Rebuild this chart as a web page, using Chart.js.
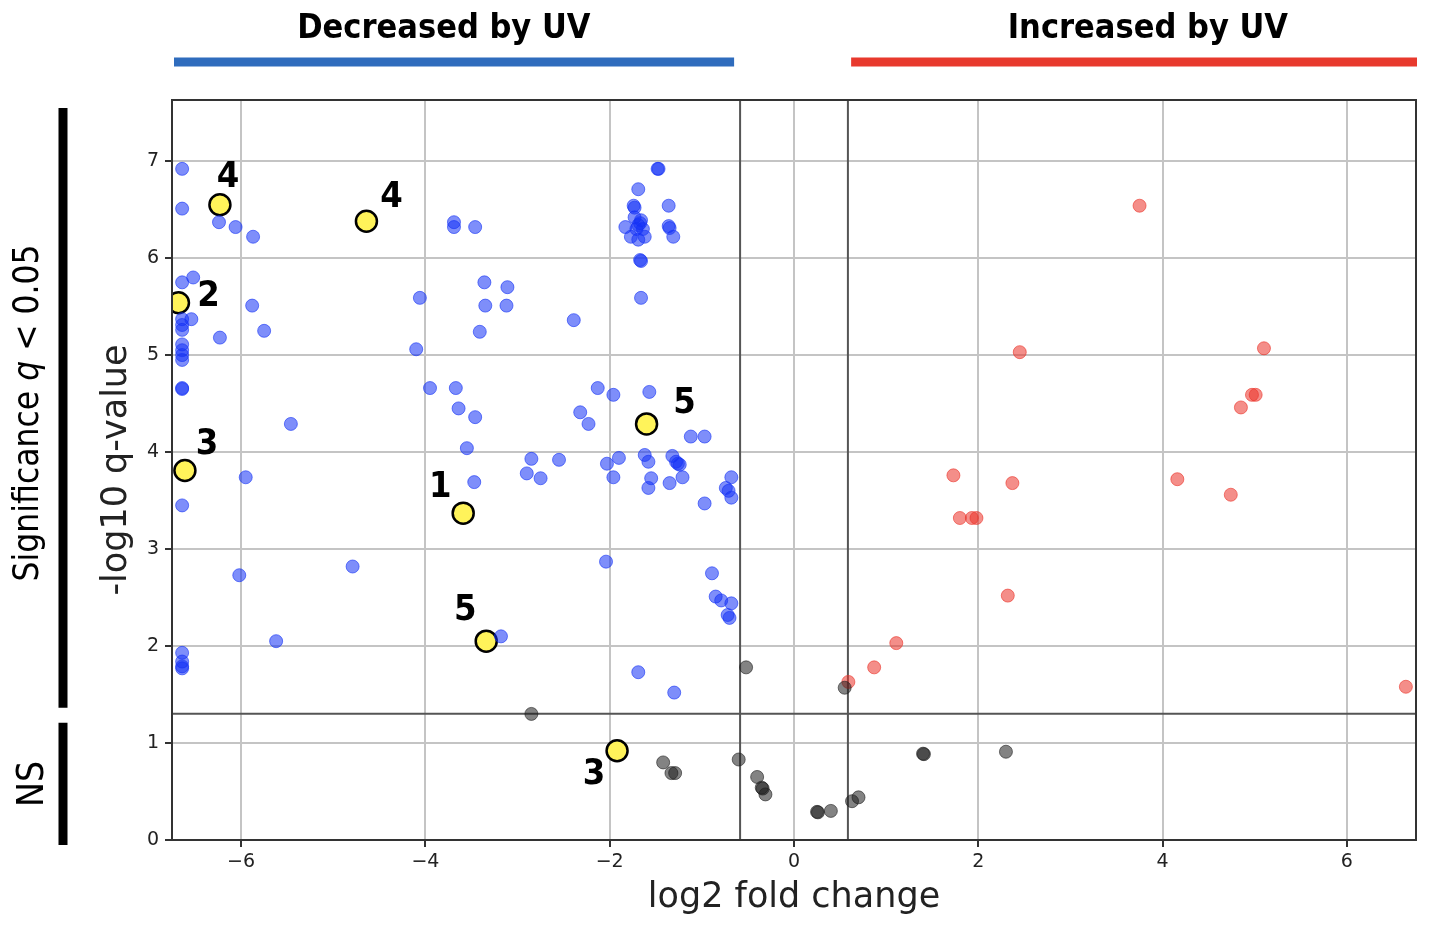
<!DOCTYPE html>
<html>
<head>
<meta charset="utf-8">
<title>Volcano plot - UV</title>
<script src="https://cdn.jsdelivr.net/npm/chart.js@4.4.1/dist/chart.umd.min.js"></script>
<style>
    html, body { margin: 0; padding: 0; background: #fff; }
    #wrap { width: 1429px; height: 925px; position: relative; }
</style>
</head>
<body>
<div id="wrap"><canvas id="volcano"></canvas></div>
<script>
// Data: [log2 fold change, -log10 q]
const decreased = [
    [-6.64, 6.92], [-6.64, 6.51], [-6.64, 5.75], [-6.64, 5.37], [-6.64, 5.31], [-6.64, 5.26],
    [-6.64, 5.11], [-6.64, 5.05], [-6.64, 5.00], [-6.64, 4.95], [-6.64, 4.66], [-6.64, 4.65],
    [-6.64, 3.45], [-6.64, 1.93], [-6.64, 1.84], [-6.64, 1.79], [-6.64, 1.77],
    [-6.52, 5.80], [-6.54, 5.37], [-6.24, 6.37], [-6.06, 6.32], [-5.87, 6.22], [-5.88, 5.51],
    [-5.75, 5.25], [-6.23, 5.18], [-5.46, 4.29], [-5.95, 3.74], [-6.02, 2.73], [-4.79, 2.82],
    [-5.62, 2.05],
    [-4.06, 5.59], [-4.10, 5.06], [-3.95, 4.66], [-3.67, 4.66], [-3.64, 4.45], [-3.46, 4.36],
    [-3.55, 4.04], [-3.47, 3.69], [-3.69, 6.37], [-3.69, 6.32], [-3.46, 6.32], [-3.36, 5.75],
    [-3.11, 5.70], [-3.35, 5.51], [-3.12, 5.51], [-3.41, 5.24],
    [-1.48, 6.92], [-1.47, 6.92], [-1.69, 6.71], [-1.36, 6.54], [-1.74, 6.54], [-1.73, 6.52],
    [-1.69, 6.34], [-1.66, 6.39], [-1.73, 6.42], [-1.83, 6.32], [-1.77, 6.22], [-1.62, 6.22],
    [-1.69, 6.19], [-1.71, 6.30], [-1.67, 6.36], [-1.64, 6.30], [-1.36, 6.33], [-1.35, 6.31],
    [-1.31, 6.22], [-1.67, 5.98], [-1.66, 5.97], [-1.66, 5.59], [-2.39, 5.36],
    [-2.13, 4.66], [-1.96, 4.59], [-1.57, 4.62], [-2.32, 4.41], [-2.23, 4.29], [-1.12, 4.16],
    [-0.97, 4.16],
    [-2.85, 3.93], [-2.55, 3.92], [-2.90, 3.78], [-2.75, 3.73], [-2.03, 3.88], [-1.90, 3.94],
    [-1.96, 3.74], [-1.62, 3.97], [-1.58, 3.90], [-1.55, 3.73], [-1.58, 3.63], [-1.32, 3.96],
    [-1.28, 3.90], [-1.24, 3.87], [-1.26, 3.88], [-1.35, 3.68], [-1.21, 3.74], [-0.97, 3.47],
    [-0.68, 3.74], [-0.74, 3.63], [-0.71, 3.60], [-0.68, 3.53],
    [-2.04, 2.87], [-0.89, 2.75], [-0.85, 2.51], [-0.79, 2.47], [-0.68, 2.44], [-0.72, 2.32],
    [-0.70, 2.29], [-3.18, 2.10], [-1.69, 1.73], [-1.30, 1.52]
];

const increased = [
    [0.59, 1.63], [0.87, 1.78], [1.11, 2.03], [3.75, 6.54], [2.45, 5.03], [5.10, 5.07],
    [4.97, 4.59], [5.01, 4.59], [4.85, 4.46], [1.73, 3.76], [2.37, 3.68], [4.16, 3.72],
    [4.74, 3.56], [1.80, 3.32], [1.93, 3.32], [1.98, 3.32], [2.32, 2.52], [6.64, 1.58]
];

const notSignificant = [
    [-2.85, 1.30], [-0.52, 1.78], [0.55, 1.57], [-0.60, 0.83], [-0.40, 0.65], [-0.35, 0.54],
    [-0.34, 0.53], [-0.31, 0.47], [0.25, 0.29], [0.26, 0.285], [0.40, 0.30], [0.63, 0.40],
    [0.70, 0.44], [1.40, 0.89], [1.41, 0.885], [2.30, 0.91], [-1.42, 0.80], [-1.33, 0.69],
    [-1.29, 0.69]
];

const marked = [
    [-6.23, 6.55], [-4.64, 6.38], [-6.68, 5.54], [-6.61, 3.81],
    [-3.59, 3.37], [-1.60, 4.29], [-3.34, 2.05], [-1.92, 0.92]
];
const markedLabels = ['4', '4', '2', '3', '1', '5', '5', '3'];

const xTickValues = [-6, -4, -2, 0, 2, 4, 6];
const yTickValues = [0, 1, 2, 3, 4, 5, 6, 7];

const fcCut = 0.585;   // log2(1.5)
const qCut = 1.301;    // -log10(0.05)

// label placement next to each marked point (pixels)
const labelOffsets = [[8, -27], [25, -24], [30, -6], [22, -26], [-23, -26], [38, -20], [-21, -31], [-23, 24]];

const condensed = "'DejaVu Sans Condensed', 'Liberation Sans Narrow', sans-serif";

function toXY(list) {
    return list.map(p => ({ x: p[0], y: p[1] }));
}

function minusSign(v) {
    return String(v).replace('-', '\u2212');
}

// Drawing of frame, threshold lines and the annotations around the plot
const decorations = {
    id: 'decorations',
    beforeDatasetsDraw(chart) {
        const { ctx, chartArea: a, scales: { x, y } } = chart;
        ctx.save();
        ctx.strokeStyle = '#555';
        ctx.lineWidth = 2;
        ctx.beginPath();
        [-fcCut, fcCut].forEach(v => {
            const px = x.getPixelForValue(v);
            ctx.moveTo(px, a.top);
            ctx.lineTo(px, a.bottom);
        });
        const py = y.getPixelForValue(qCut);
        ctx.moveTo(a.left, py);
        ctx.lineTo(a.right, py);
        ctx.stroke();
        ctx.restore();
    },
    afterDatasetsDraw(chart) {
        const { ctx, chartArea: a, scales: { x, y } } = chart;
        ctx.save();
        // frame
        ctx.strokeStyle = '#333';
        ctx.lineWidth = 2;
        ctx.strokeRect(a.left, a.top, a.right - a.left, a.bottom - a.top);

        // point labels
        ctx.fillStyle = '#000';
        ctx.font = 'bold 36px ' + condensed;
        ctx.textAlign = 'center';
        ctx.textBaseline = 'middle';
        marked.forEach((p, i) => {
            const px = x.getPixelForValue(p[0]) + labelOffsets[i][0];
            const py = y.getPixelForValue(p[1]) + labelOffsets[i][1];
            ctx.fillText(markedLabels[i], px, py);
        });

        // header bars and titles
        const barY = 62;
        ctx.lineWidth = 9;
        ctx.strokeStyle = '#2f6cbd';
        ctx.beginPath();
        ctx.moveTo(a.left + 2, barY);
        ctx.lineTo(x.getPixelForValue(-0.65), barY);
        ctx.stroke();
        ctx.strokeStyle = '#e8392d';
        ctx.beginPath();
        ctx.moveTo(x.getPixelForValue(0.62), barY);
        ctx.lineTo(a.right + 1, barY);
        ctx.stroke();

        ctx.font = 'bold 34px ' + condensed;
        ctx.textBaseline = 'alphabetic';
        ctx.fillText('Decreased by UV', x.getPixelForValue(-3.8), 38);
        ctx.fillText('Increased by UV', x.getPixelForValue(3.84), 38);

        // left-hand significance brackets
        const cutPx = y.getPixelForValue(qCut);
        ctx.lineWidth = 9;
        ctx.strokeStyle = '#000';
        ctx.lineCap = 'butt';
        ctx.beginPath();
        ctx.moveTo(63, a.top + 8);
        ctx.lineTo(63, cutPx - 6);
        ctx.moveTo(63, cutPx + 9);
        ctx.lineTo(63, a.bottom + 5);
        ctx.stroke();

        // "Significance q < 0.05" rotated, with italic q
        const sigMid = (a.top + 8 + cutPx - 6) / 2 + 5;
        const parts = [
            ['Significance ', 'normal'],
            ['q', 'italic'],
            [' < 0.05', 'normal']
        ];
        const size = 35;
        let total = 0;
        parts.forEach(pt => {
            ctx.font = pt[1] + ' ' + size + 'px ' + condensed;
            total += ctx.measureText(pt[0]).width;
        });
        ctx.save();
        ctx.translate(38, sigMid);
        ctx.rotate(-Math.PI / 2);
        ctx.textAlign = 'left';
        let cx = -total / 2;
        parts.forEach(pt => {
            ctx.font = pt[1] + ' ' + size + 'px ' + condensed;
            ctx.fillText(pt[0], cx, 0);
            cx += ctx.measureText(pt[0]).width;
        });
        ctx.restore();

        ctx.save();
        ctx.translate(43, (cutPx + 9 + a.bottom + 5) / 2);
        ctx.rotate(-Math.PI / 2);
        ctx.textAlign = 'center';
        ctx.font = '37px ' + condensed;
        ctx.fillText('NS', 0, 0);
        ctx.restore();

        ctx.restore();
    }
};

const pointStyle = (fill, border, radius, width) => ({
    backgroundColor: fill,
    borderColor: border,
    borderWidth: width,
    pointRadius: radius,
    pointHoverRadius: radius
});

const ctx = document.getElementById('volcano').getContext('2d');
new Chart(ctx, {
    type: 'scatter',
    data: {
        datasets: [
            Object.assign({ label: 'NS', data: toXY(notSignificant) },
                pointStyle('rgba(30,30,30,0.55)', 'rgba(30,30,30,0.6)', 6.5, 1)),
            Object.assign({ label: 'Decreased', data: toXY(decreased) },
                pointStyle('rgba(20,50,245,0.55)', 'rgba(20,50,245,0.6)', 6.5, 1)),
            Object.assign({ label: 'Increased', data: toXY(increased) },
                pointStyle('rgba(235,50,40,0.55)', 'rgba(235,50,40,0.6)', 6.5, 1)),
            Object.assign({ label: 'Marked', data: toXY(marked) },
                pointStyle('#fff35a', '#000', 10.5, 2.5))
        ]
    },
    options: {
        responsive: true,
        maintainAspectRatio: false,
        animation: false,
        devicePixelRatio: 1,
        events: [],
        layout: { padding: { top: 100, right: 9, left: 90, bottom: 0 } },
        plugins: {
            legend: { display: false },
            tooltip: { enabled: false }
        },
        scales: {
            x: {
                type: 'linear',
                min: -6.75,
                max: 6.75,
                afterBuildTicks: s => { s.ticks = xTickValues.map(v => ({ value: v })); },
                afterFit: s => { s.height = 85; s.paddingLeft = 0; s.paddingRight = 0; },
                ticks: {
                    color: '#222',
                    font: { family: 'DejaVu Sans', size: 19 },
                    padding: 4,
                    callback: v => minusSign(v)
                },
                grid: { color: '#c4c4c4', lineWidth: 2, tickColor: '#333', tickLength: 7, tickWidth: 2 },
                border: { color: '#333', width: 2 },
                title: {
                    display: true,
                    text: 'log2 fold change',
                    color: '#222',
                    font: { family: 'DejaVu Sans', size: 35 },
                    padding: { top: 0, bottom: 6 }
                }
            },
            y: {
                type: 'linear',
                min: 0,
                max: 7.63,
                afterBuildTicks: s => { s.ticks = yTickValues.map(v => ({ value: v })); },
                afterFit: s => { s.width = 82; s.paddingTop = 0; s.paddingBottom = 0; },
                ticks: {
                    color: '#222',
                    font: { family: 'DejaVu Sans', size: 19 },
                    padding: 6,
                    callback: v => minusSign(v)
                },
                grid: { color: '#c4c4c4', lineWidth: 2, tickColor: '#333', tickLength: 7, tickWidth: 2 },
                border: { color: '#333', width: 2 },
                title: {
                    display: true,
                    text: '-log10 q-value',
                    color: '#222',
                    font: { family: 'DejaVu Sans', size: 35 },
                    padding: { top: 6, bottom: 0 }
                }
            }
        }
    },
    plugins: [decorations]
});
</script>
</body>
</html>
